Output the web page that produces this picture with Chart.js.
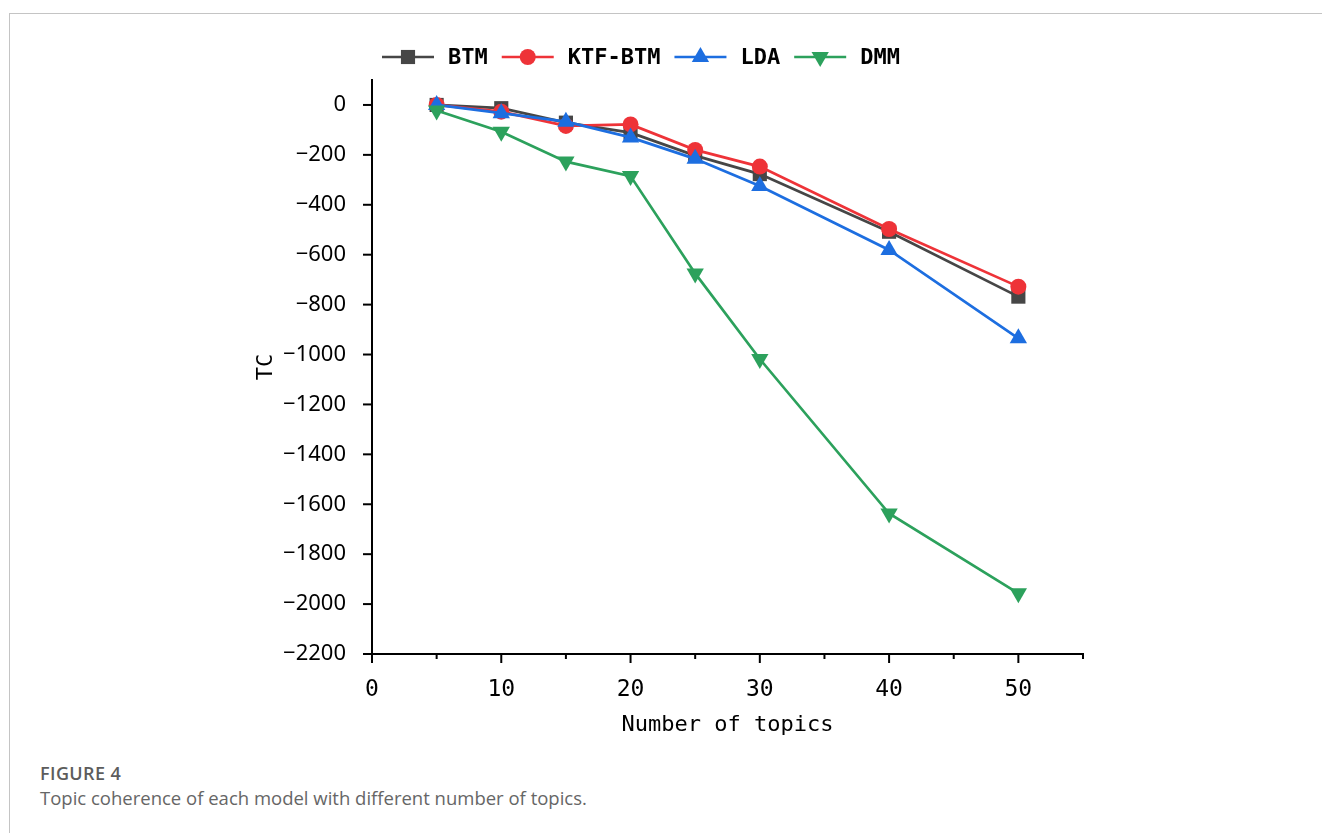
<!DOCTYPE html>
<html>
<head>
<meta charset="utf-8">
<script src="https://cdn.jsdelivr.net/npm/chart.js@4"></script>
<style>
  body { margin: 0; background: #fff; width: 1322px; height: 833px; overflow: hidden; position: relative; }
  .frame { position: absolute; left: 9px; top: 13px; right: 0; bottom: 0; border-top: 1px solid #c4c4c4; border-left: 1px solid #c4c4c4; }
  #myChart { position: absolute; left: 0; top: 0; }
  .fig { position: absolute; left: 40px; top: 761px; font-family: "Open Sans", sans-serif; font-size: 18px; font-weight: 600; color: #5c5c5c; letter-spacing: 0.4px; }
  .cap { position: absolute; left: 40px; top: 785px; font-family: "Open Sans", sans-serif; font-size: 18.5px; color: #666; }
</style>
</head>
<body>
<div class="frame"></div>
<canvas id="myChart" width="1322" height="760"></canvas>
<div class="fig">FIGURE 4</div>
<div class="cap">Topic coherence of each model with different number of topics.</div>
<script>
const topics = [5, 10, 15, 20, 25, 30, 40, 50];
const btm = [0, -13, -71, -111, -203, -277, -508, -768];
const ktfBtm = [0, -27, -84, -78, -180, -247, -497, -728];
const lda = [0, -33, -67, -130, -216, -325, -581, -935];
const dmm = [-22, -107, -227, -285, -675, -1018, -1637, -1957];

const seriesNames = ["BTM", "KTF-BTM", "LDA", "DMM"];
const colors = ["#464646", "#ee3338", "#1d6ee0", "#2ca15c"];

const toPoints = (vals) => vals.map((v, i) => ({ x: topics[i], y: v }));

function marker(ctx, style, x, y, r, rot) {
  ctx.beginPath();
  if (style === "rect") {
    const s = r * Math.SQRT1_2;
    ctx.rect(x - s, y - s, 2 * s, 2 * s);
  } else if (style === "circle") {
    ctx.arc(x, y, r, 0, Math.PI * 2);
  } else {
    const d = rot ? -1 : 1;
    ctx.moveTo(x, y - d * r);
    ctx.lineTo(x + r * 0.866, y + d * r * 0.5);
    ctx.lineTo(x - r * 0.866, y + d * r * 0.5);
    ctx.closePath();
  }
  ctx.fill();
}

// legend: short line with the marker on it, then the name
const lineLegend = {
  id: "lineLegend",
  afterDraw(chart) {
    const ctx = chart.ctx;
    ctx.save();
    ctx.font = "bold 22px 'DejaVu Sans Mono'";
    ctx.textBaseline = "middle";
    let x = 382;
    const y = 57;
    chart.data.datasets.forEach((ds) => {
      ctx.strokeStyle = ds.borderColor;
      ctx.fillStyle = ds.borderColor;
      ctx.lineWidth = 2.5;
      ctx.beginPath();
      ctx.moveTo(x, y);
      ctx.lineTo(x + 52, y);
      ctx.stroke();
      marker(ctx, ds.pointStyle, x + 26, y, ds.pointRadius, ds.pointRotation);
      x += 66;
      ctx.fillStyle = "#000";
      ctx.fillText(ds.label, x, y + 1);
      x += ctx.measureText(ds.label).width + 14;
    });
    ctx.restore();
  },
};

// outward tick marks, long on labelled values, short in between
const tickMarks = {
  id: "tickMarks",
  afterDraw(chart) {
    const ctx = chart.ctx;
    ctx.save();
    ctx.strokeStyle = "#000";
    ctx.lineWidth = 2;
    const xs = chart.scales.x;
    const ys = chart.scales.y;
    xs.ticks.forEach((t) => {
      const px = xs.getPixelForValue(t.value);
      const len = t.value % 10 === 0 ? 9 : 5;
      ctx.beginPath();
      ctx.moveTo(px, xs.top);
      ctx.lineTo(px, xs.top + len);
      ctx.stroke();
    });
    ys.ticks.forEach((t) => {
      const py = ys.getPixelForValue(t.value);
      const len = t.value % 200 === 0 ? 9 : 5;
      ctx.beginPath();
      ctx.moveTo(ys.right, py);
      ctx.lineTo(ys.right - len, py);
      ctx.stroke();
    });
    ctx.restore();
  },
};

const ctx = document.getElementById("myChart");
new Chart(ctx, {
  type: "line",
  data: {
    datasets: [
      { label: seriesNames[0], data: toPoints(btm), borderColor: colors[0], backgroundColor: colors[0], pointStyle: "rect", pointRadius: 10, order: 3 },
      { label: seriesNames[1], data: toPoints(ktfBtm), borderColor: colors[1], backgroundColor: colors[1], pointStyle: "circle", pointRadius: 8, order: 2 },
      { label: seriesNames[2], data: toPoints(lda), borderColor: colors[2], backgroundColor: colors[2], pointStyle: "triangle", pointRadius: 10, order: 1 },
      { label: seriesNames[3], data: toPoints(dmm), borderColor: colors[3], backgroundColor: colors[3], pointStyle: "triangle", pointRotation: 180, pointRadius: 10, order: 0 },
    ],
  },
  options: {
    responsive: false,
    animation: false,
    layout: { padding: { top: 80, right: 239, bottom: 0, left: 0 } },
    elements: {
      line: { borderWidth: 2.7, tension: 0 },
      point: { borderWidth: 0, hoverRadius: 10 },
    },
    plugins: { legend: { display: false }, tooltip: { enabled: false } },
    scales: {
      x: {
        type: "linear",
        min: 0,
        max: 55,
        grid: { display: false },
        border: { display: true, color: "#000", width: 2 },
        ticks: {
          stepSize: 5,
          padding: 14,
          color: "#000",
          font: { family: "DejaVu Sans Mono", size: 23 },
          callback: (v) => (v % 10 === 0 ? String(v) : ""),
        },
        title: {
          display: true,
          text: "Number of topics",
          color: "#000",
          font: { family: "DejaVu Sans Mono", size: 22 },
          padding: { top: 0, bottom: 22 },
        },
        afterFit: (s) => { s.height = 106; },
      },
      y: {
        min: -2200,
        max: 100,
        grid: { display: false },
        border: { display: true, color: "#000", width: 2 },
        ticks: {
          stepSize: 100,
          padding: 18,
          color: "#000",
          font: { family: "Noto Sans", size: 22 },
          callback: (v) => (v % 200 === 0 ? (v < 0 ? "\u2212" + Math.abs(v) : String(v)) : ""),
        },
        title: {
          display: true,
          text: "TC",
          color: "#000",
          font: { family: "DejaVu Sans Mono", size: 22 },
          padding: { top: 253, bottom: 0 },
        },
        afterFit: (s) => { s.width = 372; },
      },
    },
  },
  plugins: [lineLegend, tickMarks],
});
</script>
</body>
</html>
